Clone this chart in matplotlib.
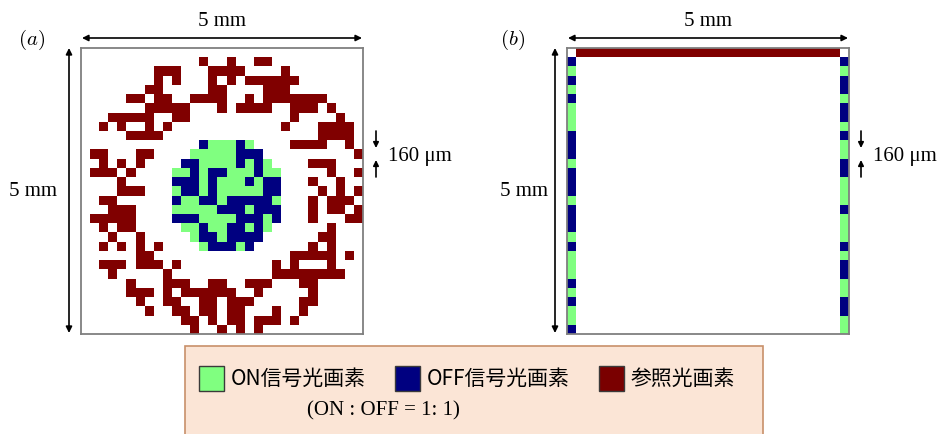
import numpy as np
import matplotlib
matplotlib.use("Agg")
import matplotlib.pyplot as plt
from matplotlib.colors import ListedColormap
from matplotlib.patches import Rectangle

plt.rcParams["mathtext.fontset"] = "cm"

# ---------------- data: 31 x 31 pixel maps ----------------
# '.' = empty, 'G' = ON signal, 'B' = OFF signal, 'R' = reference
grid_a = [
    "...............................",
    ".............R..R..RR..........",
    "........RRR...RRRR....R........",
    "........R.R...R.R.RRRRRR.......",
    ".......RR.....RR....RRR........",
    ".....RR.RR..RRRR..R.RRRRRRR....",
    ".......RRRRR...R.RRRR..RRR.R...",
    "...RRRRR..RR...........R....R..",
    "..R.R..R.R............R...RRRR.",
    ".....RRRR.................RRRR.",
    ".............BGGGBG....RRRR..R.",
    ".RR...RR....GGGGGBBB..........R",
    "..R.R.R....BBGGGGBGBG....RRR...",
    ".RRR.R....GGBGBBGGGBGG.....R..R",
    "....R.....BBBGBGGGBGBB...R..R..",
    "....RRR...GBBGBGGGGGBB....R.R.R",
    "..RR......BGGBBGBBBBBG...R.RRR.",
    "...RRR....GGGGGBBBGBBB...R.RR.R",
    ".RRRRR....BBBGGGGBBBGB...R...RR",
    "..R.RR.....GGBGGBBGBG......R...",
    "...R..R.....GBBGBBBB......RR...",
    "..R.R.R.R....GBBBGB......R.R...",
    "......RR...............RRRRR.R.",
    "..RRR.RRR.R..........R.R...R...",
    "...R.....R...........RRRRRRRR..",
    ".....R...RRR..RR..RRR...RR.....",
    ".....RRR.R.RRRRRR..R.....R.....",
    "......R..RR..RR.RRR.....RR.....",
    ".......R..RR.RR.RR...R..R......",
    "...........RR.R.RR.RRR.R.......",
    "............R..R.R.R...........",
]

# panel (b): top reference row, left/right signal columns (rows 1..30)
top_row_b = "." + "R" * 29 + "."
left_col_b = "BGBGBGGGBBBGBBBGBBBGBGGGBGBGGB"
right_col_b = "BGBBGBBGBGGBBGGGBGGGBGBBGGBBGG"

codes = {".": 0, "G": 1, "B": 2, "R": 3}
cell_colors = ["#FFFFFF", "#80FF80", "#000080", "#800000"]

legend_labels = ["ON信号光画素", "OFF信号光画素", "参照光画素"]
legend_colors = ["#80FF80", "#000080", "#7A0000"]
ratio_text = "(ON : OFF = 1: 1)"
size_label = "5 mm"
pitch_label = "160 μm"

# ---------------- build arrays ----------------
img_a = np.array([[codes[ch] for ch in row] for row in grid_a])
n = img_a.shape[0]
img_b = np.zeros((n, n), dtype=int)
img_b[0] = [codes[ch] for ch in top_row_b]
img_b[1:, 0] = [codes[ch] for ch in left_col_b]
img_b[1:, -1] = [codes[ch] for ch in right_col_b]

cmap = ListedColormap(cell_colors)

W, H = 939, 434
fig = plt.figure(figsize=(W / 100, H / 100), dpi=100)


def px_axes(x0, y0, x1, y1):
    return fig.add_axes([x0 / W, 1 - y1 / H, (x1 - x0) / W, (y1 - y0) / H])


for img, x0 in [(img_a, 81), (img_b, 567)]:
    ax = px_axes(x0, 48, x0 + 282, 334)
    ax.imshow(img, cmap=cmap, vmin=0, vmax=3, interpolation="nearest",
              aspect="auto", extent=(0, n, n, 0))
    ax.set_xticks([])
    ax.set_yticks([])
    for sp in ax.spines.values():
        sp.set_color("#7F7F7F")
        sp.set_linewidth(1.3)

# ---------------- overlay for annotations ----------------
ov = fig.add_axes([0, 0, 1, 1])
ov.set_xlim(0, W)
ov.set_ylim(H, 0)
ov.axis("off")
ov.patch.set_alpha(0)

serif = "Liberation Serif"
arrow_kw = dict(arrowstyle="<|-|>", color="black", lw=1.2,
                mutation_scale=9, shrinkA=0, shrinkB=0)
one_kw = dict(arrowstyle="-|>", color="black", lw=1.2,
              mutation_scale=8, shrinkA=0, shrinkB=0)

for x0, tag, tag_x, side_x, small_x in [(81, "a", 32, 33, 376), (567, "b", 513, 524, 861)]:
    ov.annotate("", xy=(x0 + 1, 38), xytext=(x0 + 281, 38), arrowprops=arrow_kw)
    ov.annotate("", xy=(x0 - 12, 48), xytext=(x0 - 12, 333), arrowprops=arrow_kw)
    ov.text(x0 + 141, 22, size_label, ha="center", va="center",
            fontsize=15, family=serif)
    ov.text(side_x, 192, size_label, ha="center", va="center",
            fontsize=15, family=serif)
    ov.text(tag_x, 40, "$(" + tag + ")$", ha="center", va="center", fontsize=15)
    # pitch arrows
    ov.annotate("", xy=(small_x, 148), xytext=(small_x, 131), arrowprops=one_kw)
    ov.annotate("", xy=(small_x, 160), xytext=(small_x, 177), arrowprops=one_kw)
    ov.text(small_x + 12, 157, pitch_label, ha="left", va="center",
            fontsize=15, family=serif)

# ---------------- legend box ----------------
ov.add_patch(Rectangle((185, 346), 578, 100, facecolor="#FBE5D6",
                       edgecolor="#C8906A", lw=1.2, clip_on=False))
for lx, lab, col in zip([199, 395, 599], legend_labels, legend_colors):
    ov.add_patch(Rectangle((lx, 366), 25, 25, facecolor=col,
                           edgecolor="#3A3A3A", lw=1.0))
    ov.text(lx + 32, 379, lab, ha="left", va="center", fontsize=15,
            family=["Noto Sans CJK JP", "DejaVu Sans"])
ov.text(383, 411, ratio_text, ha="center", va="center", fontsize=15,
        family=serif)

fig.savefig("out.png", dpi=100)
